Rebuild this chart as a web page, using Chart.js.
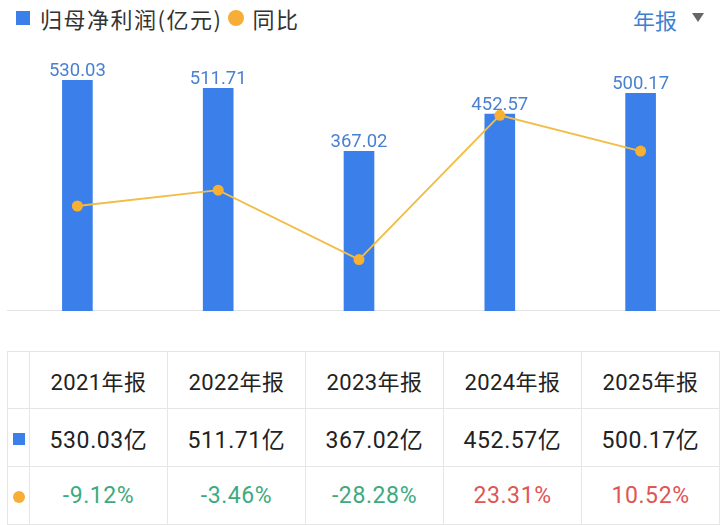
<!DOCTYPE html>
<html>
<head>
<meta charset="utf-8">
<script src="https://cdn.jsdelivr.net/npm/chart.js@4/dist/chart.umd.min.js"></script>
<style>
  html, body { margin: 0; padding: 0; background: #fff; width: 721px; height: 525px; overflow: hidden; }
  body { font-family: "Roboto", "Noto Sans CJK SC", sans-serif; position: relative; }
  #wrap { position: absolute; left: 0; top: 0; width: 721px; height: 330px; }
  .legend { position: absolute; top: 3px; left: 16px; font-size: 22px; letter-spacing: 1.5px; color: #333; font-family: "Noto Sans CJK SC", sans-serif; display: flex; align-items: center; height: 30px; }
  .sq { display: inline-block; width: 14px; height: 14px; background: #3B80EA; margin-right: 10px; }
  .dot { display: inline-block; width: 16px; height: 16px; border-radius: 50%; background: #F7AE36; margin: 0 8px 0 6px; }
  .period { position: absolute; top: 3px; left: 633px; font-size: 22px; color: #3F7FD2; font-family: "Noto Sans CJK SC", sans-serif; }
  .tri { position: absolute; left: 692px; top: 13px; width: 0; height: 0; border-left: 6px solid transparent; border-right: 6px solid transparent; border-top: 9px solid #666; }
  .base { position: absolute; left: 7px; top: 310px; width: 713px; height: 1px; background: #e3e3e3; }
  table { position: absolute; left: 7px; top: 351px; border-collapse: collapse; table-layout: fixed; }
  td { border: 1px solid #e6e6e6; text-align: center; padding: 0; font-size: 23px; letter-spacing: 0.6px; color: #222; }
  tr.h td { font-size: 22px; letter-spacing: 0.4px; }
  td.mk { width: 21px; }
  td.c { width: 137px; }
  tr.h td { height: 56px; }
  tr.r td { height: 57px; }
  .msq { display: inline-block; width: 12px; height: 12px; background: #3B80EA; }
  .mdot { display: inline-block; width: 12px; height: 12px; border-radius: 50%; background: #F7AE36; }
  .neg { color: #3DAA7E; }
  .pos { color: #E05555; }
</style>
</head>
<body>
<div class="legend"><span class="sq"></span>归母净利润(亿元)<span class="dot"></span>同比</div>
<div class="period">年报</div>
<div class="tri"></div>
<div class="base"></div>
<div id="wrap"><canvas id="c"></canvas></div>
<table id="tbl"></table>
<script>
const categories = ["2021年报", "2022年报", "2023年报", "2024年报", "2025年报"];
const profit = [530.03, 511.71, 367.02, 452.57, 500.17];
const yoy = [-9.12, -3.46, -28.28, 23.31, 10.52];
const profitUnit = "亿";

// table
const tbl = document.getElementById('tbl');
let html = '<tr class="h"><td class="mk"></td>' + categories.map(c => '<td class="c">' + c + '</td>').join('') + '</tr>';
html += '<tr class="r"><td class="mk"><span class="msq"></span></td>' + profit.map(v => '<td class="c">' + v.toFixed(2) + profitUnit + '</td>').join('') + '</tr>';
html += '<tr class="r"><td class="mk"><span class="mdot"></span></td>' + yoy.map(v => '<td class="c ' + (v < 0 ? 'neg' : 'pos') + '">' + v.toFixed(2) + '%</td>').join('') + '</tr>';
tbl.innerHTML = html;

const barLabels = {
  id: 'barLabels',
  afterDatasetDraw(chart, args) {
    if (args.index !== 0) return;
    const ctx = chart.ctx;
    const meta = chart.getDatasetMeta(0);
    ctx.save();
    ctx.font = '18.5px Roboto, sans-serif';
    ctx.fillStyle = '#4A80D0';
    ctx.textAlign = 'center';
    ctx.textBaseline = 'alphabetic';
    meta.data.forEach((el, i) => {
      ctx.fillText(profit[i].toFixed(2), el.x, el.y - 4);
    });
    ctx.restore();
  }
};

new Chart(document.getElementById('c'), {
  data: {
    labels: categories,
    datasets: [
      {
        type: 'bar',
        data: profit,
        backgroundColor: '#3B80EA',
        barThickness: 30,
        yAxisID: 'y',
        order: 1
      },
      {
        type: 'line',
        data: yoy,
        borderColor: '#F2BC45',
        borderWidth: 1.8,
        pointRadius: 5.5,
        pointBackgroundColor: '#F7B032',
        pointBorderWidth: 0,
        tension: 0,
        yAxisID: 'y2',
        order: 0
      }
    ]
  },
  options: {
    responsive: true,
    maintainAspectRatio: false,
    animation: false,
    layout: { padding: { left: 7, right: 10, top: 50, bottom: 19 } },
    plugins: { legend: { display: false }, tooltip: { enabled: false } },
    scales: {
      x: { display: false },
      y: { display: false, min: 0, max: 600 },
      y2: { display: false, min: -46.65, max: 46.65 }
    }
  },
  plugins: [barLabels]
});
</script>
</body>
</html>
